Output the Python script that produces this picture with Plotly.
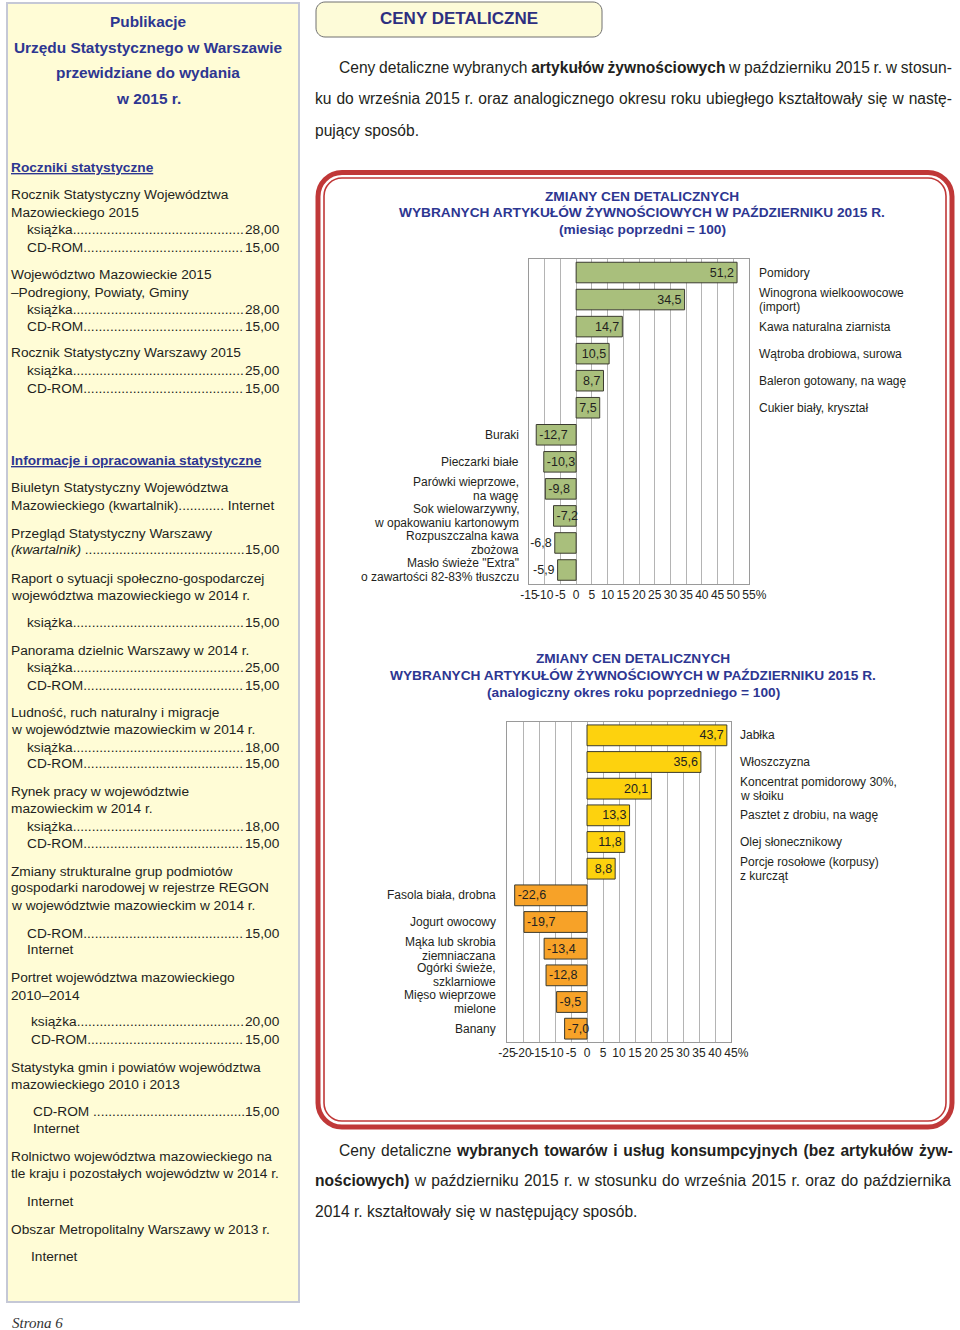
import plotly.graph_objects as go

W, H = 960, 1330

# ---------------- data ----------------
mm_items = ["Pomidory", "Winogrona wielkoowocowe<br>(import)", "Kawa naturalna ziarnista",
            "Wątroba drobiowa, surowa", "Baleron gotowany, na wagę", "Cukier biały, kryształ",
            "Buraki", "Pieczarki białe", "Parówki wieprzowe,<br>na wagę",
            "Sok wielowarzywny,<br>w opakowaniu kartonowym", "Rozpuszczalna kawa<br>zbożowa",
            "Masło świeże \"Extra\"<br>o zawartości 82-83% tłuszczu"]
mm_values = [51.2, 34.5, 14.7, 10.5, 8.7, 7.5, -12.7, -10.3, -9.8, -7.2, -6.8, -5.9]
mm_ticks = [-15, -10, -5, 0, 5, 10, 15, 20, 25, 30, 35, 40, 45, 50, 55]
mm_ticktext = ["-15", "-10", "-5", "0", "5", "10", "15", "20", "25", "30", "35", "40", "45", "50", "55%"]

yy_items = ["Jabłka", "Włoszczyzna", "Koncentrat pomidorowy 30%,<br>w słoiku",
            "Pasztet z drobiu, na wagę", "Olej słonecznikowy", "Porcje rosołowe (korpusy)<br>z kurcząt",
            "Fasola biała, drobna", "Jogurt owocowy", "Mąka lub skrobia<br>ziemniaczana",
            "Ogórki świeże,<br>szklarniowe", "Mięso wieprzowe<br>mielone", "Banany"]
yy_values = [43.7, 35.6, 20.1, 13.3, 11.8, 8.8, -22.6, -19.7, -13.4, -12.8, -9.5, -7.0]
yy_ticks = [-25, -20, -15, -10, -5, 0, 5, 10, 15, 20, 25, 30, 35, 40, 45]
yy_ticktext = ["-25", "-20", "-15", "-10", "-5", "0", "5", "10", "15", "20", "25", "30", "35", "40", "45%"]

# ---------------- styles ----------------
SANS = "Liberation Sans, Arial, sans-serif"
SERIF = "Liberation Serif, Times New Roman, serif"
TXT = "#231f20"
BLUE = "#2d3691"
SIDE_BG = "#fffcd6"


def X(p):
    return p / W


def Y(p):
    return 1 - p / H


def fmt(v):
    return f"{v:.1f}".replace(".", ",")


def tick_labels(texts):
    # the "%" of the last label hangs to the right of the centred number
    out = []
    for t in texts:
        if t.endswith("%"):
            t = '<span style="fill:rgba(0,0,0,0)">%</span>' + t
        out.append(t)
    return out


fig = go.Figure()

# ---------------- charts ----------------
green = "#a9bf7c"
fig.add_trace(go.Bar(
    x=mm_values, y=mm_items, orientation="h", width=0.76,
    marker=dict(color=green, line=dict(color="#3b3b30", width=1)),
    text=[fmt(v) for v in mm_values],
    textposition=["inside" if abs(v) >= 7 else "outside" for v in mm_values],
    insidetextanchor="end",
    textfont=dict(family=SANS, size=12.5, color=TXT),
    cliponaxis=False, xaxis="x", yaxis="y", showlegend=False, hoverinfo="skip"))

fig.add_trace(go.Bar(
    x=yy_values, y=yy_items, orientation="h", width=0.78,
    marker=dict(color=["#fdd20e" if v > 0 else "#f7a228" for v in yy_values],
                line=dict(color="#3b3b30", width=1)),
    text=[fmt(v) for v in yy_values],
    textposition="inside", insidetextanchor="end",
    textfont=dict(family=SANS, size=12.5, color=TXT),
    cliponaxis=False, xaxis="x2", yaxis="y2", showlegend=False, hoverinfo="skip"))

axis_common = dict(showgrid=True, gridcolor="#b4b4b4", gridwidth=1, zeroline=False,
                   showline=True, mirror=True, linecolor="#9a9a9a", linewidth=1,
                   ticks="", tickangle=0, tickfont=dict(family=SANS, size=12, color=TXT),
                   fixedrange=True, automargin=False)
yaxis_common = dict(categoryorder="array", autorange="reversed", showticklabels=False,
                    showgrid=False, zeroline=False, showline=True, mirror=True,
                    linecolor="#9a9a9a", fixedrange=True, automargin=False)
fig.update_layout(
    xaxis=dict(domain=[X(529), X(749)], range=[-15, 55], tickvals=mm_ticks,
               ticktext=tick_labels(mm_ticktext), anchor="y", **axis_common),
    yaxis=dict(domain=[Y(584), Y(259)], categoryarray=mm_items, anchor="x", **yaxis_common),
    xaxis2=dict(domain=[X(507), X(731)], range=[-25, 45], tickvals=yy_ticks,
                ticktext=tick_labels(yy_ticktext), anchor="y2", **axis_common),
    yaxis2=dict(domain=[Y(1042), Y(722)], categoryarray=yy_items, anchor="x2", **yaxis_common),
)

annotations = []
shapes = []


def add_text(text, x, y, size=13.7, family=SANS, color=TXT, xanchor="left", **kw):
    d = dict(text=text, x=X(x), y=Y(y), xref="paper", yref="paper", xanchor=xanchor,
             yanchor="middle", showarrow=False, borderpad=0, borderwidth=0,
             font=dict(family=family, size=size, color=color))
    d.update(kw)
    annotations.append(d)


# category labels beside bars
def cat_labels(items, values, yref, right_x, left_x, ls=14):
    for it, v in zip(items, values):
        lines = it.split("<br>")
        n = len(lines)
        for i, ln in enumerate(lines):
            shift = (n - 1) / 2 * ls - i * ls
            annotations.append(dict(
                text=ln, x=X(right_x) if v > 0 else X(left_x), y=it, xref="paper", yref=yref,
                xanchor="left" if v > 0 else "right", yanchor="middle", yshift=shift,
                showarrow=False, borderpad=0, borderwidth=0,
                font=dict(family=SANS, size=12, color=TXT)))


cat_labels(mm_items, mm_values, "y", 759, 519)
cat_labels(yy_items, yy_values, "y2", 740, 496)

# chart titles
for t, yy in [("ZMIANY CEN DETALICZNYCH", 197),
              ("WYBRANYCH ARTYKUŁÓW ŻYWNOŚCIOWYCH W PAŹDZIERNIKU 2015 R.", 213),
              ("(miesiąc poprzedni = 100)", 230)]:
    add_text(f"<b>{t}</b>", 642, yy, size=13.7, color=BLUE, xanchor="center")
for t, yy in [("ZMIANY CEN DETALICZNYCH", 659),
              ("WYBRANYCH ARTYKUŁÓW ŻYWNOŚCIOWYCH W PAŹDZIERNIKU 2015 R.", 675),
              ("(analogiczny okres roku poprzedniego = 100)", 692)]:
    add_text(f"<b>{t}</b>", 633, yy, size=13.7, color=BLUE, xanchor="center")


# ---------------- shapes ----------------
def rrect(x0, y0, x1, y1, r):
    k = 0.5523 * r
    pts = [
        f"M{X(x0 + r)},{Y(y0)}", f"L{X(x1 - r)},{Y(y0)}",
        f"C{X(x1 - r + k)},{Y(y0)} {X(x1)},{Y(y0 + r - k)} {X(x1)},{Y(y0 + r)}",
        f"L{X(x1)},{Y(y1 - r)}",
        f"C{X(x1)},{Y(y1 - r + k)} {X(x1 - r + k)},{Y(y1)} {X(x1 - r)},{Y(y1)}",
        f"L{X(x0 + r)},{Y(y1)}",
        f"C{X(x0 + r - k)},{Y(y1)} {X(x0)},{Y(y1 - r + k)} {X(x0)},{Y(y1 - r)}",
        f"L{X(x0)},{Y(y0 + r)}",
        f"C{X(x0)},{Y(y0 + r - k)} {X(x0 + r - k)},{Y(y0)} {X(x0 + r)},{Y(y0)}", "Z"]
    return " ".join(pts)


shapes.append(dict(type="rect", xref="paper", yref="paper", x0=X(7), x1=X(299), y0=Y(1302), y1=Y(3),
                   fillcolor=SIDE_BG, line=dict(color="#c5c8d6", width=2), layer="below"))
shapes.append(dict(type="path", xref="paper", yref="paper", path=rrect(316, 2, 602, 37, 9),
                   fillcolor="#fdfbd8", line=dict(color="#707070", width=1), layer="below"))
shapes.append(dict(type="path", xref="paper", yref="paper", path=rrect(318, 172.5, 952, 1127, 24),
                   fillcolor="rgba(0,0,0,0)", line=dict(color="#c03838", width=5), layer="below"))
shapes.append(dict(type="path", xref="paper", yref="paper", path=rrect(324, 178, 946, 1121, 18),
                   fillcolor="rgba(0,0,0,0)", line=dict(color="#c03838", width=1.6), layer="below"))

add_text("<b>CENY DETALICZNE</b>", 459, 18, size=17, color="#2d2f80", xanchor="center")

# ---------------- sidebar text ----------------
for t, yy in [("Publikacje", 21), ("Urzędu Statystycznego w Warszawie", 47),
              ("przewidziane do wydania", 73), ("w 2015 r.", 99)]:
    add_text(f"<b>{t}</b>", 148, yy, size=15.4, color=BLUE, xanchor="center")

add_text("<b><u>Roczniki statystyczne</u></b>", 11, 168, color=BLUE)
add_text("<b><u>Informacje i opracowania statystyczne</u></b>", 11, 460, color=BLUE)

plain_lines = [
    ("Rocznik Statystyczny Województwa", 195), ("Mazowieckiego 2015", 212),
    ("Województwo Mazowieckie 2015", 274), ("–Podregiony, Powiaty, Gminy", 292),
    ("Rocznik Statystyczny Warszawy 2015", 353),
    ("Biuletyn Statystyczny Województwa", 488),
    ("Mazowieckiego (kwartalnik)............ Internet", 505),
    ("Przegląd Statystyczny Warszawy", 533),
    ("Raport o sytuacji społeczno-gospodarczej", 578), ("województwa mazowieckiego w 2014 r.", 595),
    ("Panorama dzielnic Warszawy w 2014 r.", 650),
    ("Ludność, ruch naturalny i migracje", 712), ("w województwie mazowieckim w 2014 r.", 729),
    ("Rynek pracy w województwie", 791), ("mazowieckim w 2014 r.", 808),
    ("Zmiany strukturalne grup podmiotów", 871), ("gospodarki narodowej w rejestrze REGON", 887),
    ("w województwie mazowieckim w 2014 r.", 905),
    ("Portret województwa mazowieckiego", 977), ("2010–2014", 995),
    ("Statystyka gmin i powiatów województwa", 1067), ("mazowieckiego 2010 i 2013", 1084),
    ("Rolnictwo województwa mazowieckiego na", 1156), ("tle kraju i pozostałych województw w 2014 r.", 1173),
    ("Obszar Metropolitalny Warszawy w 2013 r.", 1229),
]
for t, yy in plain_lines:
    add_text(t, 11, yy)

for t, xx, yy in [("Internet", 27, 949), ("Internet", 33, 1128), ("Internet", 27, 1201), ("Internet", 31, 1256)]:
    add_text(t, xx, yy)

# Arial-compatible advance widths (em), regular and bold
REG = {' ': .278, '.': .278, ',': .278, '-': .333, '(': .333, ')': .333, '–': .556, '%': .889,
       'a': .556, 'b': .556, 'c': .5, 'd': .556, 'e': .556, 'f': .278, 'g': .556, 'h': .556, 'i': .222,
       'j': .222, 'k': .5, 'l': .222, 'm': .833, 'n': .556, 'o': .556, 'p': .556, 'q': .556, 'r': .333,
       's': .5, 't': .278, 'u': .556, 'v': .5, 'w': .722, 'x': .5, 'y': .5, 'z': .5,
       'ą': .556, 'ć': .5, 'ę': .556, 'ł': .222, 'ń': .556, 'ó': .556, 'ś': .5, 'ź': .5, 'ż': .5,
       'C': .722, 'D': .722, 'R': .722, 'O': .778, 'M': .833}
BOLD = {' ': .278, '.': .278, ',': .278, '-': .333, '(': .333, ')': .333,
        'a': .556, 'b': .611, 'c': .556, 'd': .611, 'e': .556, 'f': .333, 'g': .611, 'h': .611, 'i': .278,
        'j': .278, 'k': .556, 'l': .278, 'm': .889, 'n': .611, 'o': .611, 'p': .611, 'r': .389,
        's': .556, 't': .333, 'u': .611, 'w': .778, 'y': .556, 'z': .5,
        'ą': .556, 'ć': .556, 'ę': .556, 'ł': .278, 'ń': .611, 'ó': .611, 'ś': .556, 'ż': .5}
for ch in "0123456789":
    REG[ch] = .556
    BOLD[ch] = .556


def tw(s, size=13.7, table=REG):
    return sum(table.get(c, .556) for c in s) * size


leaders = [
    ("książka", "28,00", 27, 230), ("CD-ROM", "15,00", 27, 247),
    ("książka", "28,00", 27, 309), ("CD-ROM", "15,00", 27, 326),
    ("książka", "25,00", 27, 370), ("CD-ROM", "15,00", 27, 388),
    ("(kwartalnik) ", "15,00", 11, 550),
    ("książka", "15,00", 27, 622),
    ("książka", "25,00", 27, 667), ("CD-ROM", "15,00", 27, 685),
    ("książka", "18,00", 27, 747), ("CD-ROM", "15,00", 27, 763),
    ("książka", "18,00", 27, 826), ("CD-ROM", "15,00", 27, 843),
    ("CD-ROM", "15,00", 27, 933),
    ("książka", "20,00", 31, 1022), ("CD-ROM", "15,00", 31, 1039),
    ("CD-ROM ", "15,00", 33, 1111),
]
PRICE_RIGHT = 280
for lab, price, xx, yy in leaders:
    start = PRICE_RIGHT - tw(price)
    n = int((start - xx - tw(lab)) / tw("."))
    shown = f"<i>{lab.strip()}</i> " if lab.startswith("(") else lab
    add_text(shown + "." * n, xx, yy)
    add_text(price, PRICE_RIGHT, yy, xanchor="right")

add_text("<i>Strona 6</i>", 12, 1323, size=15, family=SERIF, color="#333333")

# ---------------- paragraphs (justified with word-spacing) ----------------
PSIZE = 15.6
para_lines = [
    ([("Ceny detaliczne wybranych ", False), ("artykułów żywnościowych", True),
      (" w październiku 2015 r. w stosun-", False)], 339, 953, 68),
    ([("ku do września 2015 r. oraz analogicznego okresu roku ubiegłego kształtowały się w nastę-", False)],
     315, 953, 99),
    ([("pujący sposób.", False)], 315, None, 130),
    ([("Ceny detaliczne ", False), ("wybranych towarów i usług konsumpcyjnych (bez artykułów żyw-", True)],
     339, 953, 1150),
    ([("nościowych)", True), (" w październiku 2015 r. w stosunku do września 2015 r. oraz do października", False)],
     315, 953, 1180),
    ([("2014 r. kształtowały się w następujący sposób.", False)], 315, None, 1211),
]
for segs, x0, x1, yy in para_lines:
    body = "".join(f"<b>{t}</b>" if b else t for t, b in segs)
    if x1 is not None:
        natural = sum(tw(t, PSIZE, BOLD if b else REG) for t, b in segs)
        nsp = sum(t.count(" ") for t, b in segs)
        ws = (x1 - x0 - natural) / nsp
        body = f'<span style="word-spacing:{ws:.2f}px">{body}</span>'
    add_text(body, x0, yy, size=PSIZE)

fig.update_layout(
    width=W, height=H, autosize=False, margin=dict(l=0, r=0, t=0, b=0, pad=0, autoexpand=False),
    paper_bgcolor="white", plot_bgcolor="white",
    separators=", ", showlegend=False,
    uniformtext=dict(minsize=12.5, mode="show"),
    annotations=annotations, shapes=shapes,
)

fig.write_html("out.html",
               config={"displayModeBar": False, "responsive": False},
               post_script="document.documentElement.style.margin='0';document.body.style.margin='0';"
                           "document.body.style.overflow='hidden';")
